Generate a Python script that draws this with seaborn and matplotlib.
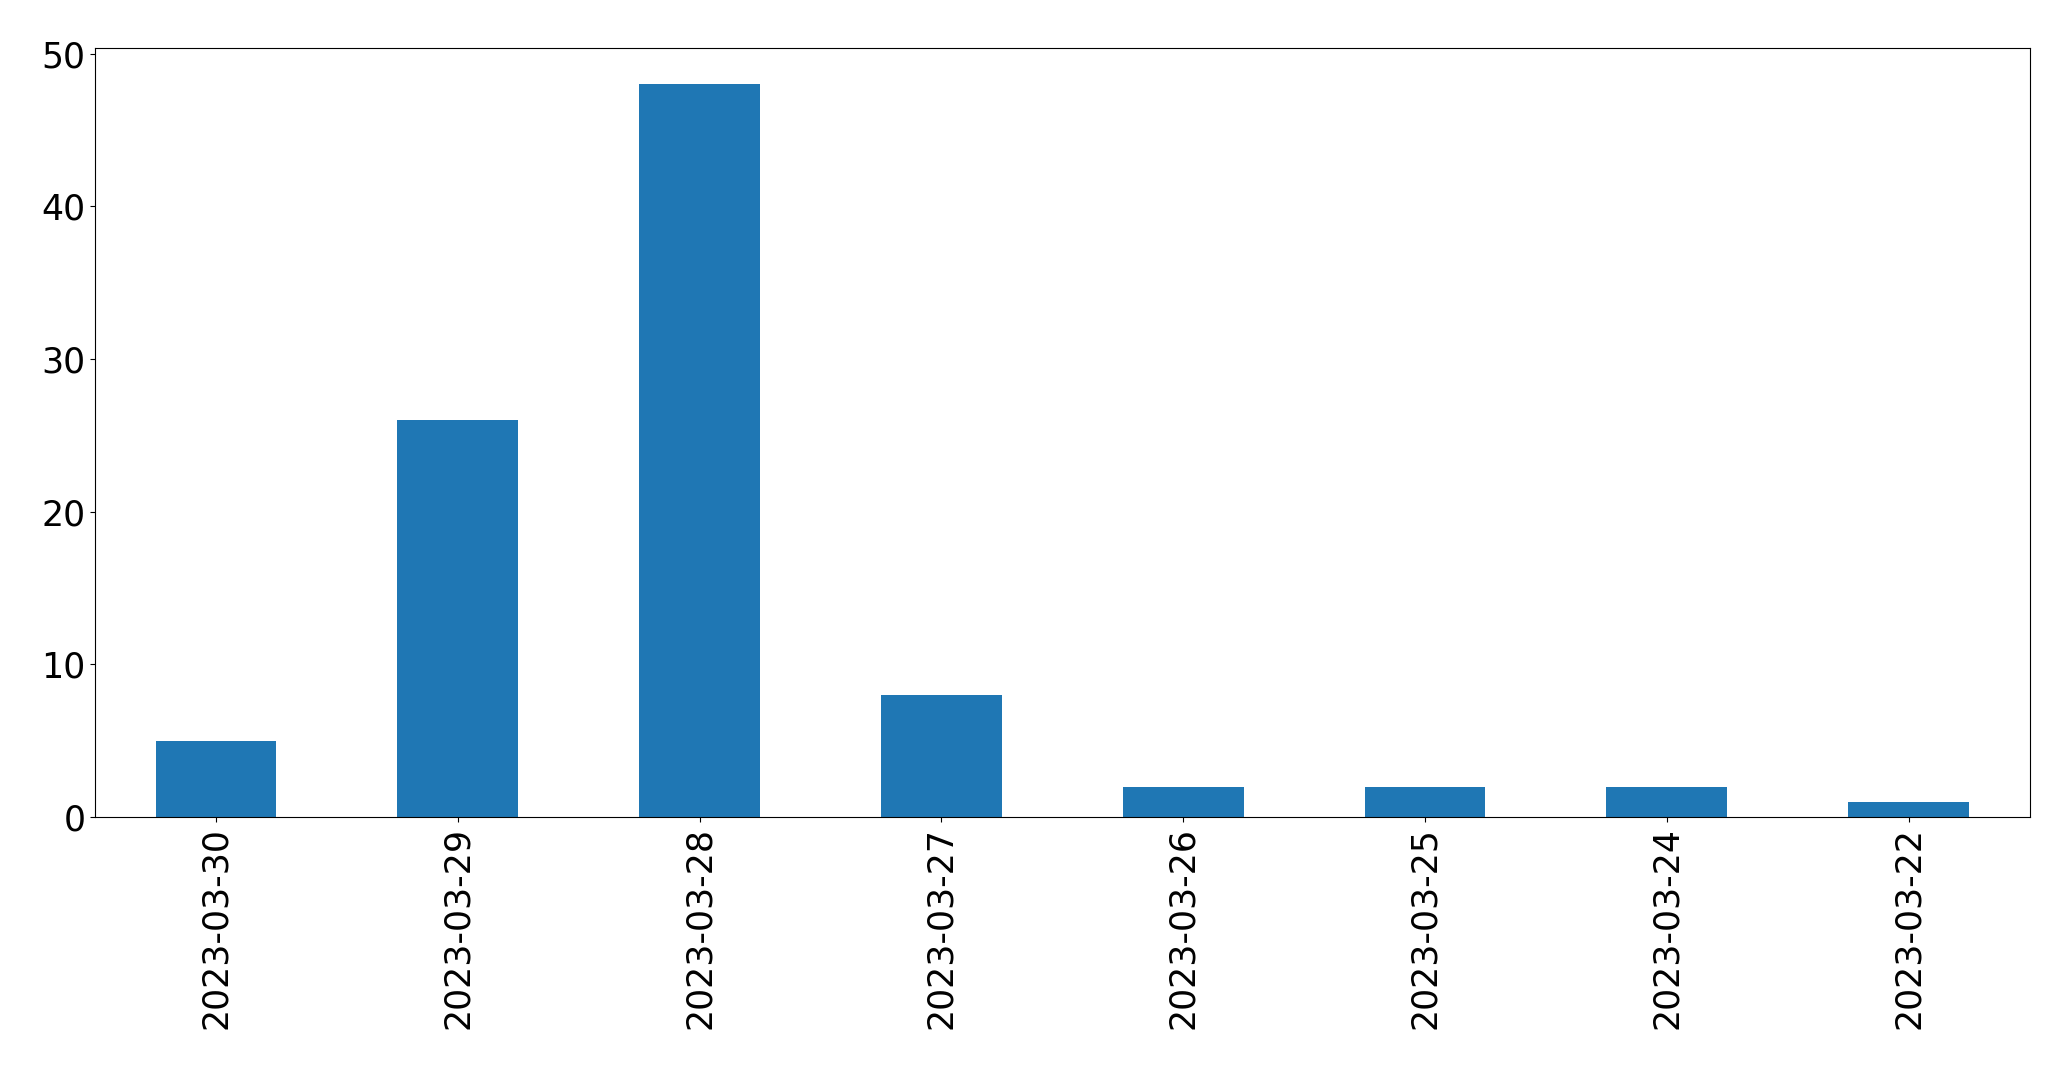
import matplotlib
matplotlib.use("Agg")
import matplotlib.pyplot as plt
import pandas as pd
import seaborn as sns

# counts per day, in the order shown
dates = ["2023-03-30", "2023-03-29", "2023-03-28", "2023-03-27",
         "2023-03-26", "2023-03-25", "2023-03-24", "2023-03-22"]
counts = [5, 26, 48, 8, 2, 2, 2, 1]

df = pd.DataFrame({"date": dates, "count": counts})

plt.rcParams["font.family"] = ["DejaVu Sans"]
plt.rcParams["font.size"] = 25

fig, ax = plt.subplots(figsize=(20.71, 10.69), dpi=100)
sns.barplot(data=df, x="date", y="count", order=dates, color="#1f77b4",
            saturation=1, width=0.5, ax=ax)

ax.set_xlim(-0.5, len(dates) - 0.5)
ax.set_xlabel("")
ax.set_ylabel("")
ax.tick_params(axis="both", labelsize=25)
plt.setp(ax.get_xticklabels(), rotation=90)

fig.subplots_adjust(left=0.0459, right=0.980, top=0.9554, bottom=0.2357)
fig.savefig("out.png", dpi=100)
